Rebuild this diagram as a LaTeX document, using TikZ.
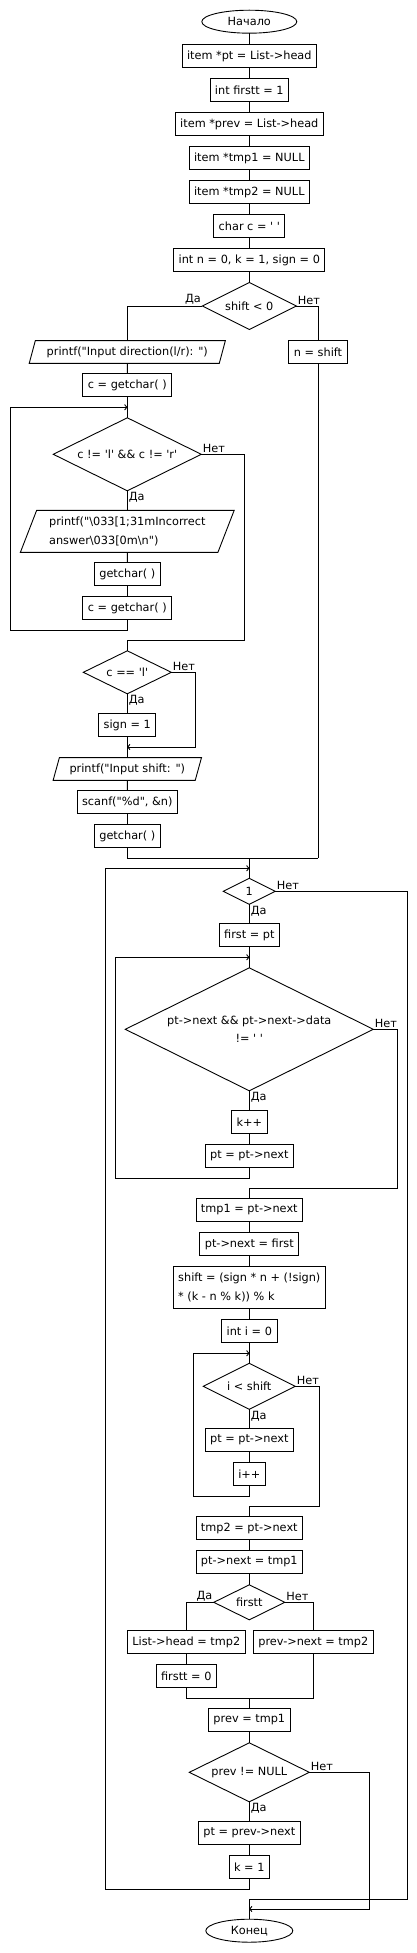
\documentclass[tikz,border=0pt]{standalone}
\usepackage{fontspec}
\setmainfont{DejaVu Sans}[Ligatures=TeXOff]
\usetikzlibrary{shapes.geometric,arrows.meta}

\begin{document}
\begin{tikzpicture}[x=1pt, y=-1pt, line width=0.9pt, font=\fontsize{11.3}{18.7}\selectfont,
    every node/.style={inner sep=0pt, outer sep=0pt},
    box/.style={draw, rectangle, minimum height=22.7pt, inner xsep=5pt},
    io/.style={draw, trapezium, trapezium left angle=64, trapezium right angle=116, trapezium stretches=true, minimum height=22.7pt},
    cond/.style={draw, diamond, aspect=2},
    term/.style={draw, ellipse, minimum height=23pt},
    lbl/.style={inner sep=1.5pt},
    arr/.style={-{To[length=3pt, width=6pt]}}]
        \useasboundingbox (0,0) rectangle (417,1953);
        \node[term, minimum width=95pt] (start) at (249.3, 21.7) {Начало};
        \node[box] (b1) at (249.3, 56) {item *pt = List->head};
        \node[box] (b2) at (249.3, 90) {int firstt = 1};
        \node[box] (b3) at (249.3, 124) {item *prev = List->head};
        \node[box] (b4) at (249.3, 158) {item *tmp1 = NULL};
        \node[box] (b5) at (249.3, 192) {item *tmp2 = NULL};
        \node[box] (b6) at (249.3, 226) {char c = \textquotesingle\ \textquotesingle};
        \node[box] (b7) at (249.3, 260) {int n = 0, k = 1, sign = 0};
        \node[cond, minimum width=94pt, minimum height=47pt] (d1) at (249.3, 306) {shift < 0};
        \node[io, minimum width=196.4pt] (p1) at (127.3, 352) {printf("Input direction(l/r): ")};
        \node[box] (nshift) at (318, 352) {n = shift};
        \node[box] (c1) at (127.3, 385) {c = getchar( )};
        \node[cond, minimum width=148pt, minimum height=73pt] (d2) at (127.3, 454.3) {c != \textquotesingle l\textquotesingle\ \&\& c != \textquotesingle r\textquotesingle};
        \node[io, minimum width=214pt, minimum height=42pt, align=left] (p2) at (127.3, 531.3) {printf("\textbackslash 033[1;31mIncorrect\\answer\textbackslash 033[0m\textbackslash n")};
        \node[box] (g1) at (127.3, 574) {getchar( )};
        \node[box] (c2) at (127.3, 608) {c = getchar( )};
        \node[cond, minimum width=88pt, minimum height=43pt] (d3) at (127.3, 672.3) {c == \textquotesingle l\textquotesingle};
        \node[box] (sign) at (127.3, 725) {sign = 1};
        \node[io, minimum width=148.4pt] (p3) at (127.3, 769) {printf("Input shift: ")};
        \node[box] (scan) at (127.3, 802) {scanf("\%d", \&n)};
        \node[box] (g2) at (127.3, 836) {getchar( )};
        \node[cond, minimum width=52pt, minimum height=26pt] (d4) at (249.3, 891.3) {1};
        \node[box] (f1) at (249.3, 935) {first = pt};
        \node[cond, minimum width=248pt, minimum height=123pt, align=center] (d5) at (249.3, 1029.3) {pt->next \&\& pt->next->data\\!= \textquotesingle\ \textquotesingle};
        \node[box] (kpp) at (249.3, 1122) {k++};
        \node[box] (pn1) at (249.3, 1156) {pt = pt->next};
        \node[box] (t1) at (249.3, 1210) {tmp1 = pt->next};
        \node[box] (pnf) at (249.3, 1244) {pt->next = first};
        \node[box, minimum height=42pt, align=left] (sh) at (249.3, 1287.3) {shift = (sign * n + (!sign)\\* (k - n \% k)) \% k};
        \node[box] (i0) at (249.3, 1331) {int i = 0};
        \node[cond, minimum width=92pt, minimum height=46pt] (d6) at (249.3, 1386.3) {i < shift};
        \node[box] (pn2) at (249.3, 1440) {pt = pt->next};
        \node[box] (ipp) at (249.3, 1474) {i++};
        \node[box] (t2) at (249.3, 1528) {tmp2 = pt->next};
        \node[box] (pnt) at (249.3, 1562) {pt->next = tmp1};
        \node[cond, minimum width=71pt, minimum height=35pt] (d7) at (249.3, 1602.3) {firstt};
        \node[box] (lh) at (186.3, 1642) {List->head = tmp2};
        \node[box] (pv) at (313.3, 1642) {prev->next = tmp2};
        \node[box] (f0) at (186.3, 1676) {firstt = 0};
        \node[box] (pr) at (249.3, 1720) {prev = tmp1};
        \node[cond, minimum width=120pt, minimum height=59pt] (d8) at (249.3, 1772.3) {prev != NULL};
        \node[box] (pp) at (249.3, 1833) {pt = prev->next};
        \node[box] (k1) at (249.3, 1867) {k = 1};
        \node[term, minimum width=87pt] (end) at (249.3, 1930.7) {Конец};

        \node[lbl, anchor=south east] at (d1.west) {Да};
        \node[lbl, anchor=south west] at (d1.east) {Нет};
        \node[lbl, anchor=north west] at (d2.south) {Да};
        \node[lbl, anchor=south west] at (d2.east) {Нет};
        \node[lbl, anchor=north west] at (d3.south) {Да};
        \node[lbl, anchor=south west] at (d3.east) {Нет};
        \node[lbl, anchor=north west] at (d4.south) {Да};
        \node[lbl, anchor=south west] at (d4.east) {Нет};
        \node[lbl, anchor=north west] at (d5.south) {Да};
        \node[lbl, anchor=south west] at (d5.east) {Нет};
        \node[lbl, anchor=north west] at (d6.south) {Да};
        \node[lbl, anchor=south west] at (d6.east) {Нет};
        \node[lbl, anchor=south east] at (d7.west) {Да};
        \node[lbl, anchor=south west] at (d7.east) {Нет};
        \node[lbl, anchor=north west] at (d8.south) {Да};
        \node[lbl, anchor=south west] at (d8.east) {Нет};

        \coordinate (lp1) at (127.3, 407.3);
        \coordinate (lp1b) at (10.3, 630.3);
        \coordinate (j2) at (244.3, 640.3);
        \coordinate (j3) at (127.3, 747);
        \coordinate (j3r) at (195.3, 747);
        \coordinate (j4) at (249.3, 858.3);
        \coordinate (j4r) at (318, 858.3);
        \coordinate (lp2) at (249.3, 868.3);
        \coordinate (lp2b) at (105.3, 1889);
        \coordinate (lp3) at (249.3, 957.3);
        \coordinate (lp3b) at (115.3, 1178);
        \coordinate (j5) at (397.3, 1188);
        \coordinate (lp4) at (249.3, 1353.3);
        \coordinate (lp4b) at (193.3, 1496);
        \coordinate (j6) at (319.3, 1506);
        \coordinate (j7) at (249.3, 1698.3);
        \coordinate (j8) at (249.3, 1899);
        \coordinate (j8r) at (407.3, 1899);
        \coordinate (j9) at (249.3, 1909);
        \coordinate (j9r) at (369.3, 1909);

        \foreach \a/\b in {start/b1, b1/b2, b2/b3, b3/b4, b4/b5, b5/b6, b6/b7, b7/d1,
            p1/c1, c1/d2, d2/p2, p2/g1, g1/c2, d3/sign, sign/p3, p3/scan, scan/g2,
            d4/f1, f1/d5, d5/kpp, kpp/pn1, t1/pnf, pnf/sh, sh/i0, i0/d6, d6/pn2, pn2/ipp,
            t2/pnt, pnt/d7, lh/f0, pr/d8, d8/pp, pp/k1}
            \draw (\a) -- (\b);

        \draw (d1.west) -| (p1.north);
        \draw (d1.east) -| (nshift.north);
        \draw[arr] (c2.south) |- (lp1b) |- (lp1);
        \draw (d2.east) -| (j2) -| (d3.north);
        \draw[arr] (d3.east) -| (j3r) -- (j3);
        \draw (g2.south) |- (j4r);
        \draw (nshift.south) -- (j4r);
        \draw (j4) -- (d4.north);
        \draw[arr] (k1.south) |- (lp2b) |- (lp2);
        \draw[arr] (pn1.south) |- (lp3b) |- (lp3);
        \draw (d5.east) -| (j5) -| (t1.north);
        \draw[arr] (ipp.south) |- (lp4b) |- (lp4);
        \draw (d6.east) -| (j6) -| (t2.north);
        \draw (d7.west) -| (lh.north);
        \draw (d7.east) -| (pv.north);
        \draw (f0.south) |- (j7);
        \draw (pv.south) |- (j7);
        \draw (j7) -- (pr.north);
        \draw (d4.east) -| (j8r) -- (j8);
        \draw[arr] (d8.east) -| (j9r) -- (j9);
        \draw (j8) -- (end.north);
    \end{tikzpicture}
\end{document}
